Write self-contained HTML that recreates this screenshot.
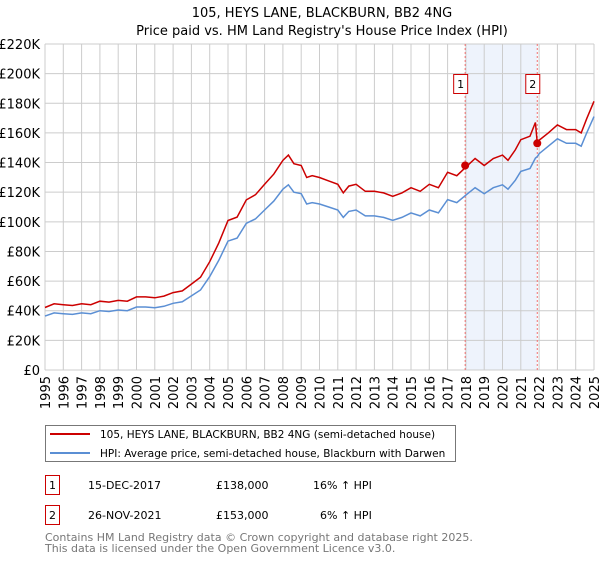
<!DOCTYPE html>
<html><head><meta charset="utf-8"><style>
body{margin:0;background:#fff;font-family:"Liberation Sans","DejaVu Sans",sans-serif;}
svg text{font-family:"DejaVu Sans","Liberation Sans",sans-serif;}
</style></head><body>
<svg id="chart" width="600" height="560" xmlns="http://www.w3.org/2000/svg">
<text x="322" y="17" font-size="13" text-anchor="middle">105, HEYS LANE, BLACKBURN, BB2 4NG</text>
<text x="322" y="35" font-size="13" text-anchor="middle">Price paid vs. HM Land Registry's House Price Index (HPI)</text>
<g id="plot"></g>
<g>
<rect x="45.5" y="425.5" width="410" height="36" fill="#fff" stroke="#777"/>
<line x1="50" y1="434" x2="90" y2="434" stroke="#cc0000" stroke-width="2"/>
<text x="100" y="438" font-size="10.5">105, HEYS LANE, BLACKBURN, BB2 4NG (semi-detached house)</text>
<line x1="50" y1="453" x2="90" y2="453" stroke="#5b8fd4" stroke-width="2"/>
<text x="100" y="457" font-size="10.5">HPI: Average price, semi-detached house, Blackburn with Darwen</text>
</g>
<g font-size="11">
<rect x="45.5" y="475.5" width="14" height="19" fill="#fff" stroke="#cc0000"/>
<text x="52.5" y="489" text-anchor="middle">1</text>
<text x="88" y="489">15-DEC-2017</text><text x="216" y="489">£138,000</text><text x="313" y="489">16% ↑ HPI</text>
<rect x="45.5" y="505.5" width="14" height="19" fill="#fff" stroke="#cc0000"/>
<text x="52.5" y="519" text-anchor="middle">2</text>
<text x="88" y="519">26-NOV-2021</text><text x="216" y="519">£153,000</text><text x="320" y="519">6% ↑ HPI</text>
</g>
<text x="45" y="541" font-size="11" fill="#777">Contains HM Land Registry data © Crown copyright and database right 2025.</text>
<text x="45" y="552" font-size="11" fill="#777">This data is licensed under the Open Government Licence v3.0.</text>
</svg>
<script>
const years=[1995,1995.5,1996,1996.5,1997,1997.5,1998,1998.5,1999,1999.5,2000,2000.5,2001,2001.5,2002,2002.5,2003,2003.5,2004,2004.5,2005,2005.5,2006,2006.5,2007,2007.5,2008,2008.3,2008.6,2009,2009.3,2009.6,2010,2010.5,2011,2011.3,2011.6,2012,2012.5,2013,2013.5,2014,2014.5,2015,2015.5,2016,2016.5,2017,2017.5,2018,2018.5,2019,2019.5,2020,2020.3,2020.7,2021,2021.5,2021.8,2021.9,2022,2022.5,2023,2023.5,2024,2024.3,2024.6,2025];
const hpi=[36.4,38.5,38,37.5,38.5,38,40,39.5,40.5,40,42.5,42.5,42,43,45,46,50,54,63,74,87,89,99,102,108,114,122,125,120,119,112,113,112,110,108,103,107,108,104,104,103,101,103,106,104,108,106,115,113,118,123,119,123,125,122,128,134,136,143,144,146,151,156,153,153,151,160,171];
const price=[42.2,44.7,44.1,43.5,44.7,44.1,46.4,45.8,47,46.4,49.3,49.3,48.7,49.9,52.2,53.4,58,62.6,73.1,85.8,100.9,103.2,114.8,118.3,125.3,132.2,141.5,145,139.2,138,129.9,131.1,129.9,127.6,125.3,119.5,124.1,125.3,120.6,120.6,119.5,117.2,119.5,123,120.6,125.3,123,133.4,131.1,136.9,142.7,138,142.7,145,141.5,148.5,155.4,157.8,167,153,155,160,165.4,162.2,162.2,160,169.6,181.3];
const saleYears=[2017.96,2021.9];
const salePrices=[138,153];
const yTicks=[0,20,40,60,80,100,120,140,160,180,200,220];
const xTicks=[1995,1996,1997,1998,1999,2000,2001,2002,2003,2004,2005,2006,2007,2008,2009,2010,2011,2012,2013,2014,2015,2016,2017,2018,2019,2020,2021,2022,2023,2024,2025];
const X0=45,X1=594,Y0=370,Y1=44;
const xs=v=>X0+(v-1995)/30*(X1-X0);
const ys=v=>Y0-v/220*(Y0-Y1);
const NS="http://www.w3.org/2000/svg";
const g=document.getElementById('plot');
function mk(t,a,p){const e=document.createElementNS(NS,t);for(const k in a)e.setAttribute(k,a[k]);(p||g).appendChild(e);return e;}
let e=mk('rect',{x:xs(saleYears[0]),y:Y1,width:xs(saleYears[1])-xs(saleYears[0]),height:Y0-Y1,fill:'#eef3fc'});


yTicks.forEach(v=>{
 let l=mk('line',{x1:X0,x2:X1,y1:ys(v),y2:ys(v),stroke:'#ccc'});
 
 
 let t=mk('text',{x:X0-5,y:ys(v)+5,'font-size':13,'text-anchor':'end'});
 
 
 t.textContent=v===0?'£0':'£'+v+'K';
});
xTicks.forEach(v=>{
 let l=mk('line',{x1:xs(v),x2:xs(v),y1:Y1,y2:Y0,stroke:'#ccc'});
 
 
 let wrap=mk('g',{transform:'translate('+(xs(v)+5)+','+(Y0+6)+') rotate(-90)'});
 let t=mk('text',{x:0,y:0,'font-size':13,'text-anchor':'end'},wrap);
 
 
 t.textContent=v;
});
saleYears.forEach((v,i)=>{
 let l=mk('line',{x1:xs(v),x2:xs(v),y1:Y1,y2:Y0,stroke:'#f07070','stroke-dasharray':'2,2'});
 
 
 let r=mk('rect',{x:xs(v)-11.5,y:74.5,width:14,height:19,fill:'#fff',stroke:'#cc0000'});
 
 
 let t=mk('text',{x:xs(v)-4.5,y:88,'font-size':11,'text-anchor':'middle'});
 
 
 t.textContent=i+1;
});
const pts=a=>a.map((v,i)=>xs(years[i]).toFixed(1)+','+ys(v).toFixed(1)).join(' ');
e=mk('polyline',{points:pts(hpi),fill:'none',stroke:'#5b8fd4','stroke-width':1.5});


e=mk('polyline',{points:pts(price),fill:'none',stroke:'#cc0000','stroke-width':1.5});


saleYears.forEach((v,i)=>{
 let c=mk('circle',{cx:xs(v),cy:ys(salePrices[i]),r:4,fill:'#cc0000'});
 
 
});
</script>
</body></html>
